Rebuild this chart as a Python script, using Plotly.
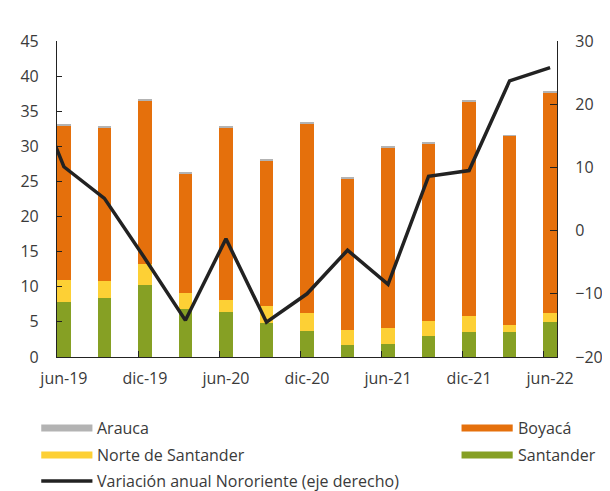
import plotly.graph_objects as go

# Trimestres (jun-19 a jun-22)
quarters = ["jun-19", "sep-19", "dic-19", "mar-20", "jun-20", "sep-20", "dic-20",
            "mar-21", "jun-21", "sep-21", "dic-21", "mar-22", "jun-22"]

santander = [7.8, 8.4, 10.2, 6.9, 6.4, 4.9, 3.7, 1.7, 1.9, 3.0, 3.5, 3.5, 5.0]
norte_santander = [3.1, 2.4, 3.1, 2.2, 1.7, 2.4, 2.5, 2.1, 2.2, 2.1, 2.4, 1.0, 1.3]
boyaca = [22.0, 21.9, 23.1, 17.0, 24.6, 20.7, 27.1, 21.6, 25.8, 25.3, 30.5, 27.0, 31.4]
arauca = [0.2, 0.15, 0.35, 0.2, 0.15, 0.1, 0.2, 0.2, 0.15, 0.1, 0.15, 0.1, 0.05]

# variación anual (eje derecho); primer valor = mar-19, fuera del rango visible
var_quarters = ["mar-19"] + quarters
var_anual = [26.0, 10.1, 5.1, -4.4, -14.2, -1.3, -14.5, -10.0, -3.1, -8.5,
             8.6, 9.5, 23.7, 25.8]

FONT = "Open Sans"
TXT = "#3a3a3a"
BAR_W = 0.34

x_bar = list(range(len(quarters)))
x_var = list(range(-1, len(quarters)))
x_range = [-BAR_W / 2, len(quarters) - 1 + BAR_W / 2]

fig = go.Figure()

series = [
    ("Santander", santander, "#86a024"),
    ("Norte de Santander", norte_santander, "#fdd035"),
    ("Boyacá", boyaca, "#e5700c"),
    ("Arauca", arauca, "#b3b3b3"),
]
for name, vals, col in series:
    fig.add_trace(go.Bar(x=x_bar, y=vals, name=name, width=BAR_W,
                         marker=dict(color=col, line=dict(width=0)),
                         showlegend=False))

fig.add_trace(go.Scatter(x=x_var, y=var_anual, xaxis="x2", yaxis="y2", mode="lines",
                         line=dict(color="#222222", width=3.5),
                         name="Variación anual Nororiente (eje derecho)",
                         showlegend=False))

# ── geometry helpers (page pixel -> paper); the page body adds an 8px offset
W, H = 610, 491
OFF = 8
L, R, T, B = 49 - OFF, 53 + OFF, 41 - OFF, 134 + OFF
pw, ph = W - L - R, H - T - B


def px(x):
    return (x - OFF - L) / pw


def py(y):
    return (H - B - (y - OFF)) / ph


# ── manual legend ─────────────────────────────────────────────────────
legend_items = [
    ("Arauca", "#b3b3b3", 33, 428, "bar"),
    ("Norte de Santander", "#fdd035", 33, 455, "bar"),
    ("Variación anual Nororiente (eje derecho)", "#222222", 33, 481, "line"),
    ("Boyacá", "#e5700c", 460, 428, "bar"),
    ("Santander", "#86a024", 460, 455, "bar"),
]
shapes = []
annotations = []
for label, col, x0, yc, kind in legend_items:
    if kind == "bar":
        shapes.append(dict(type="rect", xref="paper", yref="paper",
                           x0=px(x0), x1=px(x0 + 52), y0=py(yc - 3.5), y1=py(yc + 3.5),
                           fillcolor=col, line=dict(width=0)))
    else:
        shapes.append(dict(type="line", xref="paper", yref="paper",
                           x0=px(x0), x1=px(x0 + 52), y0=py(yc), y1=py(yc),
                           line=dict(color=col, width=3.5)))
    annotations.append(dict(xref="paper", yref="paper", x=px(x0 + 55), y=py(yc),
                            text=label, showarrow=False, xanchor="left",
                            yanchor="middle", font=dict(size=16, color=TXT)))

axis_font = dict(family=FONT, size=16, color=TXT)

fig.update_layout(
    width=W, height=H,
    barmode="stack",
    bargap=0,
    plot_bgcolor="white", paper_bgcolor="white",
    margin=dict(l=L, r=R, t=T, b=B),
    font=dict(family=FONT, color=TXT),
    # tick marks sit at the left edge of every other bar
    xaxis=dict(
        range=x_range,
        tickvals=[i - BAR_W / 2 for i in x_bar[::2]], showticklabels=False,
        ticks="inside", ticklen=6, tickcolor="#222", tickwidth=1.2,
        showgrid=False, zeroline=False,
        showline=True, linecolor="#222", linewidth=1.2,
    ),
    # labels centred under the bars
    xaxis2=dict(
        range=x_range, overlaying="x", anchor="y2", side="bottom",
        tickvals=x_bar[::2], ticktext=quarters[::2], ticks="",
        tickfont=axis_font, showgrid=False, zeroline=False, showline=False,
        ticklabelstandoff=10,
    ),
    yaxis=dict(
        range=[0, 45], dtick=5, ticks="inside", ticklen=5, tickcolor="#222",
        tickwidth=1.2, tickfont=axis_font, showgrid=False, zeroline=False,
        showline=True, linecolor="#222", linewidth=1.2, ticklabelstandoff=14,
    ),
    yaxis2=dict(
        range=[-20, 30], dtick=10, overlaying="y", side="right", anchor="x2",
        ticks="inside", ticklen=7, tickcolor="#222", tickwidth=1.2,
        tickfont=axis_font, showgrid=False, zeroline=False, showline=True,
        linecolor="#222", linewidth=1.2, ticklabelstandoff=14,
    ),
    shapes=shapes,
    annotations=annotations,
    showlegend=False,
)

fig.write_html("out.html")
